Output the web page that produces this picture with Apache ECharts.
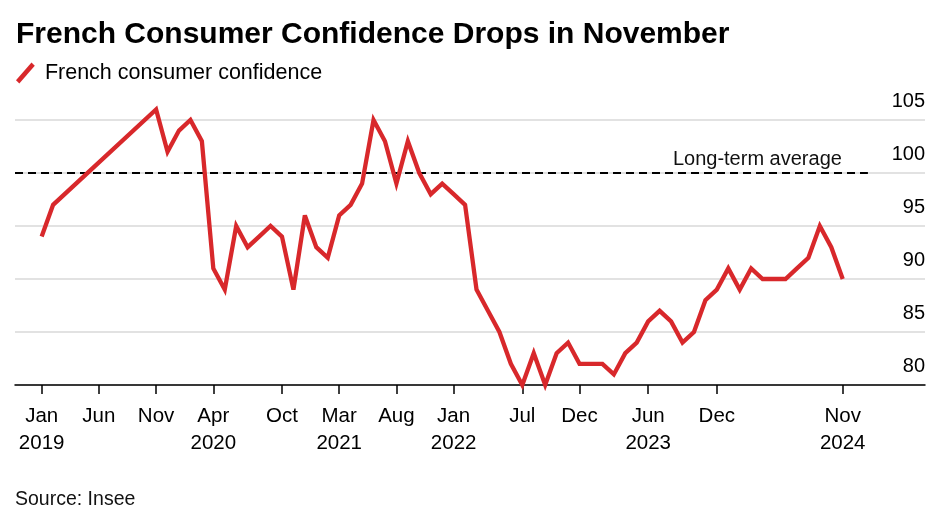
<!DOCTYPE html>
<html>
<head>
<meta charset="utf-8">
<script src="https://cdn.jsdelivr.net/npm/echarts@6/dist/echarts.min.js"></script>
<style>
html,body{margin:0;padding:0;background:#fff;}
#chart{width:950px;height:530px;}
</style>
</head>
<body>
<div id="chart"></div>
<script>
// Monthly index: 0 = Jan 2019 ... 70 = Nov 2024 (null = no data point in the source line)
const months = [
 'Jan 2019','Feb 2019','Mar 2019','Apr 2019','May 2019','Jun 2019','Jul 2019','Aug 2019','Sep 2019','Oct 2019','Nov 2019','Dec 2019',
 'Jan 2020','Feb 2020','Mar 2020','Apr 2020','May 2020','Jun 2020','Jul 2020','Aug 2020','Sep 2020','Oct 2020','Nov 2020','Dec 2020',
 'Jan 2021','Feb 2021','Mar 2021','Apr 2021','May 2021','Jun 2021','Jul 2021','Aug 2021','Sep 2021','Oct 2021','Nov 2021','Dec 2021',
 'Jan 2022','Feb 2022','Mar 2022','Apr 2022','May 2022','Jun 2022','Jul 2022','Aug 2022','Sep 2022','Oct 2022','Nov 2022','Dec 2022',
 'Jan 2023','Feb 2023','Mar 2023','Apr 2023','May 2023','Jun 2023','Jul 2023','Aug 2023','Sep 2023','Oct 2023','Nov 2023','Dec 2023',
 'Jan 2024','Feb 2024','Mar 2024','Apr 2024','May 2024','Jun 2024','Jul 2024','Aug 2024','Sep 2024','Oct 2024','Nov 2024'
];
const confidence = [
 94, 97, null, null, null, null, null, null, null, null, 106, 102,
 104, 105, 103, 91, 89, 95, 93, 94, 95, 94, 89, 96,
 93, 92, 96, 97, 99, 105, 103, 99, 103, 100, 98, 99,
 98, 97, 89, 87, 85, 82, 80, 83, 80, 83, 84, 82,
 82, 82, 81, 83, 84, 86, 87, 86, 84, 85, 88, 89,
 91, 89, 91, 90, 90, 90, 91, 92, 95, 93, 90
];
const longTermAverage = 100;
const tickPositions = [0, 5, 10, 15, 21, 26, 31, 36, 42, 47, 53, 59, 70];
const tickLabels = ['Jan\n2019','Jun','Nov','Apr\n2020','Oct','Mar\n2021','Aug','Jan\n2022','Jul','Dec','Jun\n2023','Dec','Nov\n2024'];
const yTicks = [80, 85, 90, 95, 100, 105];

const seriesData = [];
confidence.forEach((v, i) => { if (v !== null) seriesData.push([i, v]); });

const FONT = "'Liberation Sans', Arial, Helvetica, sans-serif";
const RED = '#d8282b';
const xMin = -2.33, xMax = 77.19;

const chart = echarts.init(document.getElementById('chart'), null, {renderer: 'canvas'});
chart.setOption({
  animation: false,
  backgroundColor: '#fff',
  title: {
    text: 'French Consumer Confidence Drops in November',
    left: 11, top: 15,
    textStyle: {fontFamily: FONT, fontSize: 30, fontWeight: 'bold', color: '#000'}
  },
  legend: {
    data: ['French consumer confidence'],
    left: 11, top: 57,
    itemWidth: 21, itemHeight: 21, itemGap: 10,
    icon: 'path://M0,16 L14,0 L17,3 L3,19 Z',
    textStyle: {fontFamily: FONT, fontSize: 21.5, color: '#000', padding: [0,0,0,4]}
  },
  graphic: [{
    type: 'text', left: 15, top: 490,
    style: {text: 'Source: Insee', fontFamily: FONT, fontSize: 19.5, fill: '#111'}
  }],
  grid: {left: 15, right: 25, top: 120, bottom: 145, containLabel: false},
  xAxis: {
    type: 'value', min: xMin, max: xMax,
    splitLine: {show: false},
    axisLine: {show: true, lineStyle: {color: '#000', width: 1.5}},
    axisTick: {show: true, customValues: tickPositions, length: 9, lineStyle: {color: '#000', width: 1.5}},
    axisLabel: {
      customValues: tickPositions,
      formatter: (v) => tickLabels[tickPositions.indexOf(v)],
      fontFamily: FONT, fontSize: 20.5, color: '#000', lineHeight: 27, margin: 18
    }
  },
  yAxis: {
    type: 'value', position: 'right', min: 80, max: 105, interval: 5,
    axisLine: {show: false}, axisTick: {show: false},
    splitLine: {show: true, lineStyle: {color: '#d9d9d9', width: 1.5}},
    axisLabel: {
      inside: true, margin: 0, fontFamily: FONT, fontSize: 20, color: '#000',
      verticalAlign: 'bottom', lineHeight: 20, padding: [0, 0, 9, 0]
    }
  },
  series: [{
    name: 'French consumer confidence',
    type: 'line',
    data: seriesData,
    showSymbol: false, symbol: 'none',
    clip: false,
    itemStyle: {color: RED},
    lineStyle: {color: RED, width: 4.3, join: 'miter', miterLimit: 4},
    z: 5,
    markLine: {
      silent: true, symbol: 'none',
      lineStyle: {color: '#000', type: [8, 5], width: 2},
      label: {
        show: true, position: 'insideEndTop', formatter: 'Long-term average',
        fontFamily: FONT, fontSize: 20, color: '#111', distance: [26, 4]
      },
      data: [[{coord: [xMin, longTermAverage]}, {coord: [72.2, longTermAverage]}]],
      z: 3
    }
  }]
});
</script>
</body>
</html>
